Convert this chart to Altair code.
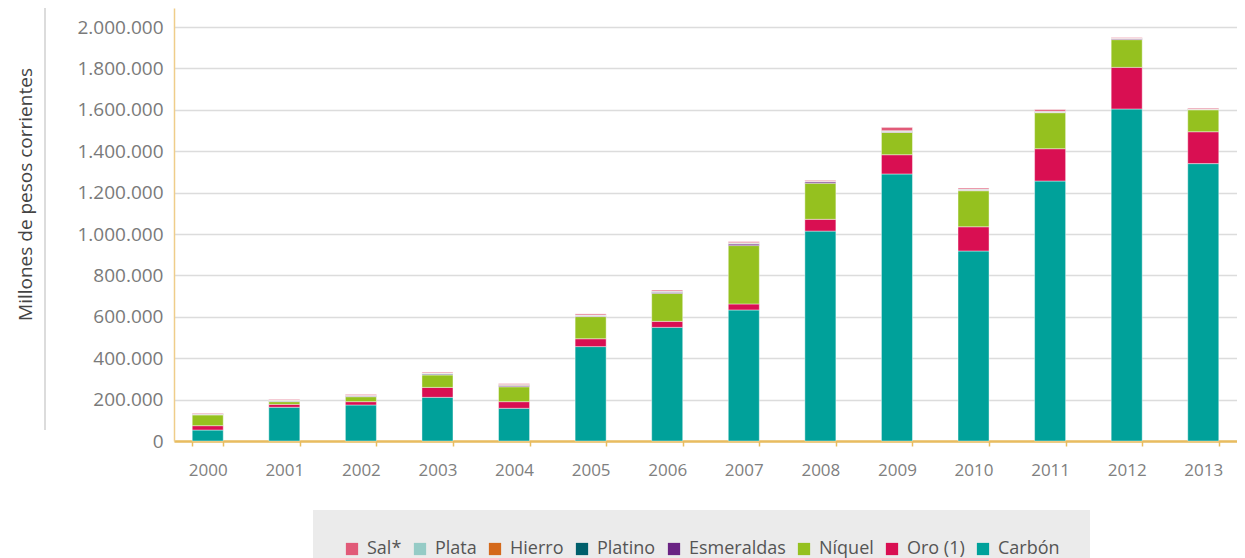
import altair as alt
import pandas as pd

years = ["2000", "2001", "2002", "2003", "2004", "2005", "2006",
         "2007", "2008", "2009", "2010", "2011", "2012", "2013"]

# Millones de pesos corrientes
carbon = [53000, 163000, 174000, 211000, 158000, 456000, 549000, 633000,
          1014000, 1290000, 918000, 1256000, 1604000, 1340000]
oro = [21000, 14000, 16000, 48000, 32000, 38000, 29000, 29000,
       57000, 93000, 117000, 156000, 201000, 154000]
niquel = [52000, 13000, 24000, 60000, 72000, 107000, 135000, 282000,
          174000, 108000, 174000, 174000, 134000, 106000]
esmeraldas = [3000, 2000, 3000, 4000, 4000, 3000, 6000, 8000,
              7000, 2000, 2000, 2000, 4000, 2000]
platino = [1000, 2000, 1000, 2000, 3000, 1000, 1000, 1000,
           1000, 3000, 1000, 1000, 1000, 1000]
hierro = [1000, 3000, 2000, 2000, 2000, 2000, 1000, 2000,
          1000, 1000, 2000, 1000, 1000, 1000]
plata = [1000, 1000, 1000, 1000, 2000, 2000, 3000, 3000,
         1000, 2000, 3000, 3000, 1000, 1000]
sal = [3000, 3000, 4000, 4000, 4000, 5000, 5000, 5000,
       4000, 16000, 5000, 8000, 3000, 4000]

legend_order = ["Sal*", "Plata", "Hierro", "Platino", "Esmeraldas",
                "Níquel", "Oro (1)", "Carbón"]
colors = ["#e15a78", "#95cbc6", "#d4691b", "#005f6b", "#6a2383",
          "#95c11f", "#d90f52", "#00a19a"]

series = {
    "Carbón": carbon, "Oro (1)": oro, "Níquel": niquel,
    "Esmeraldas": esmeraldas, "Platino": platino, "Hierro": hierro,
    "Plata": plata, "Sal*": sal,
}
stack_order = ["Carbón", "Oro (1)", "Níquel", "Esmeraldas", "Platino",
               "Hierro", "Plata", "Sal*"]

rows = []
for name in stack_order:
    for y, v in zip(years, series[name]):
        rows.append({"year": y, "mineral": name, "value": v,
                     "orden": stack_order.index(name)})
df = pd.DataFrame(rows)

FONT = "Open Sans"

bars = alt.Chart(df).mark_bar(
    stroke="white", strokeWidth=0.6, strokeOpacity=0.7
).encode(
    x=alt.X("year:N", sort=years,
            scale=alt.Scale(paddingInner=0.595, paddingOuter=0.238),
            axis=alt.Axis(title=None, labelAngle=0, labelFont=FONT,
                          labelFontSize=17, labelColor="#808080",
                          labelPadding=16, domainColor="#e9bc5f",
                          domainWidth=2.5, tickColor="#e9bc5f",
                          tickWidth=1.5, tickSize=5, tickBand="extent",
                          grid=False)),
    y=alt.Y("value:Q", stack="zero",
            scale=alt.Scale(domain=[0, 2091800], nice=False, zero=True),
            axis=alt.Axis(
                title="Millones de pesos corrientes",
                values=[0, 200000, 400000, 600000, 800000, 1000000, 1200000,
                        1400000, 1600000, 1800000, 2000000],
                labelExpr="replace(format(datum.value, ','), regexp(',', 'g'), '.')",
                labelFont=FONT, labelFontSize=19, labelColor="#7a7a7a",
                labelPadding=11, ticks=False,
                domainColor="#efcd8a", domainWidth=1.5,
                gridColor="#dcdcdc", gridWidth=1.3,
                titleFont=FONT, titleFontSize=19, titleFontWeight="normal",
                titleColor="#444444", titleAngle=-90, titleX=-149,
                titleY=186, titleAlign="center", titleBaseline="middle")),
    color=alt.Color("mineral:N",
                    scale=alt.Scale(domain=legend_order, range=colors),
                    legend=alt.Legend(
                        title=None, orient="none", direction="horizontal",
                        legendX=139, legendY=502, columns=8,
                        symbolType="square", symbolSize=150,
                        symbolStrokeWidth=0, labelFont=FONT,
                        labelFontSize=18, labelColor="#555555",
                        labelOffset=6, columnPadding=9,
                        fillColor="#ebebeb", padding=30)),
    order=alt.Order("orden:Q", sort="ascending"),
)

deco = alt.Chart(pd.DataFrame({"a": [0]})).mark_rule(
    color="#d0d0d0", strokeWidth=1.5
).encode(x=alt.value(-129), y=alt.value(-8), y2=alt.value(422))

chart = alt.layer(deco, bars).properties(
    width=1063, height=433,
    autosize=alt.AutoSizeParams(type="none"),
    padding={"left": 166, "top": 0, "right": 0, "bottom": 117},
).configure_view(stroke=None)

chart.save("out.html", embed_options={"renderer": "svg", "actions": False})
